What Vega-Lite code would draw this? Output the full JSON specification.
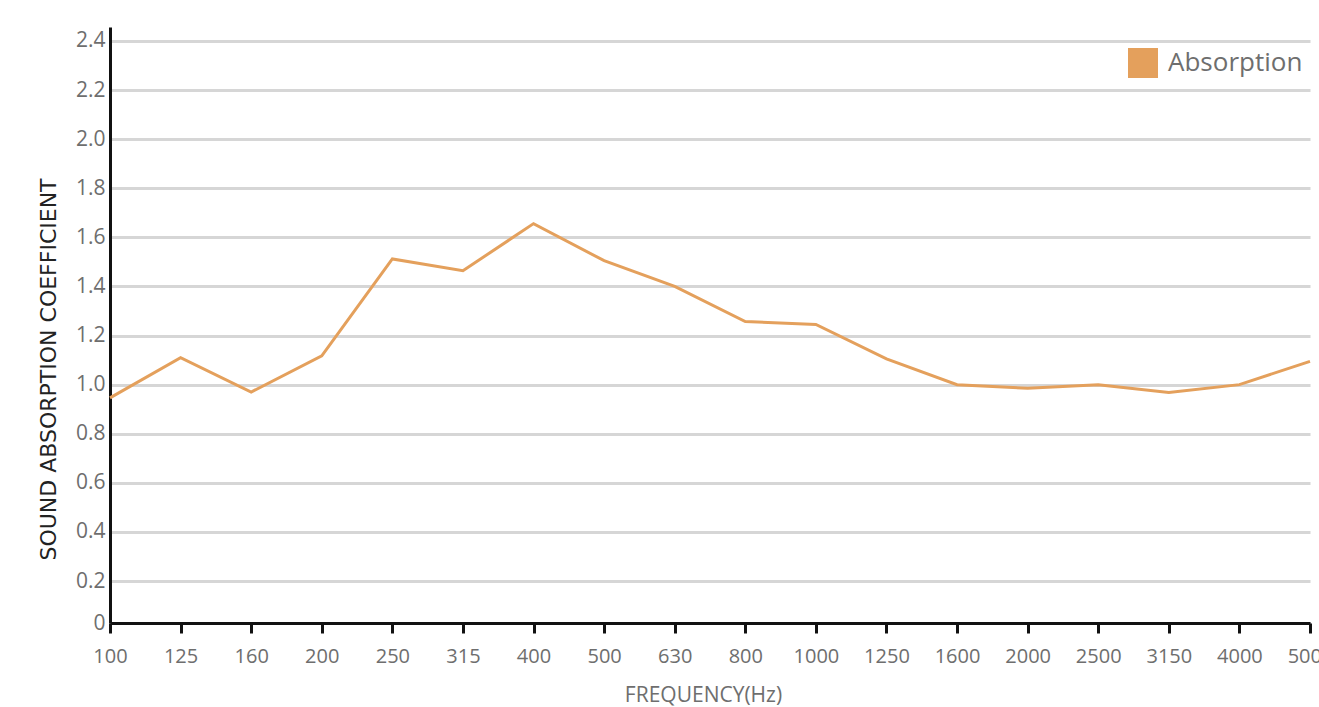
{
  "$schema": "https://vega.github.io/schema/vega-lite/v6.json",
  "autosize": {"type": "none"},
  "padding": {"left": 110, "top": 27, "right": 9, "bottom": 84},
  "width": 1200,
  "height": 596,
  "background": "white",
  "data": {
    "values": [
      {"freq": "100", "value": 0.946, "series": "Absorption"},
      {"freq": "125", "value": 1.11, "series": "Absorption"},
      {"freq": "160", "value": 0.97, "series": "Absorption"},
      {"freq": "200", "value": 1.117, "series": "Absorption"},
      {"freq": "250", "value": 1.512, "series": "Absorption"},
      {"freq": "315", "value": 1.464, "series": "Absorption"},
      {"freq": "400", "value": 1.656, "series": "Absorption"},
      {"freq": "500", "value": 1.505, "series": "Absorption"},
      {"freq": "630", "value": 1.4, "series": "Absorption"},
      {"freq": "800", "value": 1.257, "series": "Absorption"},
      {"freq": "1000", "value": 1.245, "series": "Absorption"},
      {"freq": "1250", "value": 1.105, "series": "Absorption"},
      {"freq": "1600", "value": 1.0, "series": "Absorption"},
      {"freq": "2000", "value": 0.985, "series": "Absorption"},
      {"freq": "2500", "value": 1.0, "series": "Absorption"},
      {"freq": "3150", "value": 0.968, "series": "Absorption"},
      {"freq": "4000", "value": 1.0, "series": "Absorption"},
      {"freq": "5000", "value": 1.095, "series": "Absorption"}
    ]
  },
  "mark": {"type": "line", "strokeWidth": 3, "strokeJoin": "miter", "clip": false},
  "encoding": {
    "x": {
      "field": "freq",
      "type": "ordinal",
      "sort": null,
      "scale": {"type": "point", "padding": 0},
      "axis": {
        "title": "FREQUENCY(Hz)",
        "titleFont": "Open Sans",
        "titleFontSize": 21,
        "titleFontWeight": "normal",
        "titleColor": "#6e6e6e",
        "titleX": 593,
        "titleY": 72,
        "titleAlign": "center",
        "titleBaseline": "middle",
        "labelAngle": 0,
        "labelFont": "Open Sans",
        "labelFontSize": 20,
        "labelColor": "#6e6e6e",
        "labelPadding": 13,
        "labelOverlap": false,
        "domainColor": "#111111",
        "domainWidth": 3,
        "tickColor": "#111111",
        "tickWidth": 3,
        "tickSize": 10,
        "grid": false
      }
    },
    "y": {
      "field": "value",
      "type": "quantitative",
      "scale": {"domain": [0.029, 2.457], "nice": false, "zero": false},
      "axis": {
        "title": "SOUND ABSORPTION COEFFICIENT",
        "titleFont": "DejaVu Sans",
        "titleFontSize": 22,
        "titleFontWeight": "normal",
        "titleColor": "#222222",
        "titleAngle": -90,
        "titleX": -62,
        "titleY": 342,
        "titleAlign": "center",
        "titleBaseline": "middle",
        "values": [0.029, 0.2, 0.4, 0.6, 0.8, 1.0, 1.2, 1.4, 1.6, 1.8, 2.0, 2.2, 2.4],
        "labelExpr": "datum.value < 0.1 ? '0' : format(datum.value, '.1f')",
        "labelFont": "Open Sans",
        "labelFontSize": 21,
        "labelColor": "#6e6e6e",
        "labelPadding": 5,
        "ticks": false,
        "domainColor": "#111111",
        "domainWidth": 3,
        "grid": true,
        "gridColor": "#d6d6d6",
        "gridWidth": 3
      }
    },
    "color": {
      "field": "series",
      "type": "nominal",
      "scale": {"range": ["#E4A05C"]},
      "legend": {
        "title": null,
        "orient": "none",
        "legendX": 1018,
        "legendY": 21,
        "symbolType": "square",
        "symbolSize": 900,
        "labelFont": "Open Sans",
        "labelFontSize": 26,
        "labelColor": "#6e6e6e",
        "labelOffset": 10,
        "encode": {
          "symbols": {"update": {"fill": {"value": "#E4A05C"}, "stroke": {"value": "#E4A05C"}, "strokeWidth": {"value": 0}}}
        }
      }
    }
  },
  "config": {"view": {"stroke": null}}
}
